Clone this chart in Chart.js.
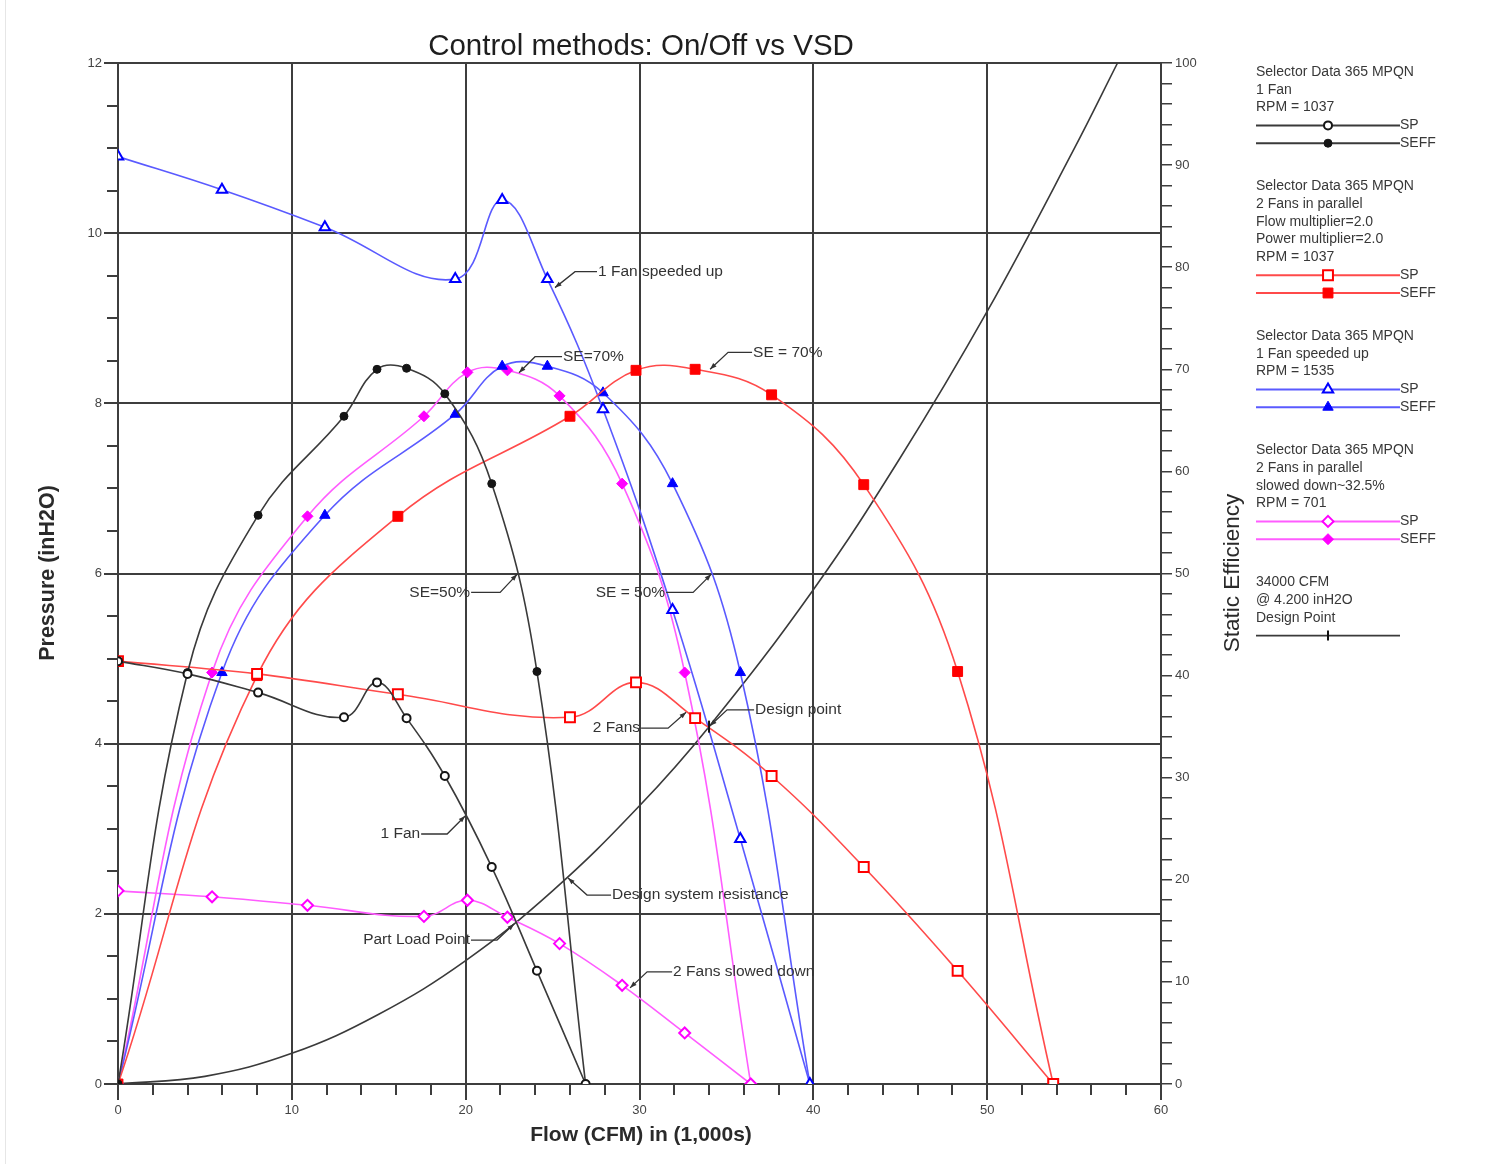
<!DOCTYPE html>
<html><head><meta charset="utf-8">
<script src="https://cdn.jsdelivr.net/npm/chart.js@4.4.1/dist/chart.umd.min.js"></script>
<style>
html,body{margin:0;padding:0;background:#fff;}
#wrap{position:relative;width:1509px;height:1164px;overflow:hidden;}
#edge{position:absolute;left:5px;top:0;width:1px;height:1164px;background:#e6e6e6;}
canvas{position:absolute;left:0;top:0;}
</style></head><body>
<div id="wrap"><div id="edge"></div><canvas id="c" width="1509" height="1164" style="width:1509px;height:1164px"></canvas></div>
<script>
// ---- DATA ----
const chartTitle = 'Control methods: On/Off vs VSD';
const xTitle = 'Flow (CFM) in (1,000s)';
const yTitle = 'Pressure (inH2O)';
const y2Title = 'Static Efficiency';

// 1 Fan, RPM 1037
const flow1 = [0, 4, 8.06, 13, 14.9, 16.6, 18.8, 21.5, 24.1, 26.9];
const sp1   = [4.97, 4.82, 4.60, 4.31, 4.72, 4.30, 3.62, 2.55, 1.33, 0];
const seff1 = [0, 40.3, 55.7, 65.4, 70.0, 70.1, 67.6, 58.8, 40.4, 0];

// 2 Fans in parallel, RPM 1037
const flow2 = [0, 8, 16.1, 26, 29.8, 33.2, 37.6, 42.9, 48.3, 53.8];
const sp2   = [4.97, 4.82, 4.58, 4.31, 4.72, 4.30, 3.62, 2.55, 1.33, 0];
const seff2 = [0, 40.0, 55.6, 65.4, 69.9, 70.0, 67.5, 58.7, 40.4, 0];

// 1 Fan speeded up, RPM 1535
const flow3 = [0, 5.98, 11.9, 19.4, 22.1, 24.7, 27.9, 31.9, 35.8, 39.8];
const sp3   = [10.9, 10.51, 10.07, 9.46, 10.39, 9.46, 7.93, 5.57, 2.88, 0];
const seff3 = [0, 40.3, 55.7, 65.6, 70.3, 70.3, 67.7, 58.8, 40.3, 0];

// 2 Fans in parallel slowed down, RPM 701
const flow4 = [0, 5.41, 10.9, 17.6, 20.1, 22.4, 25.4, 29.0, 32.6, 36.4];
const sp4   = [2.27, 2.20, 2.10, 1.97, 2.16, 1.96, 1.65, 1.16, 0.60, 0];
const seff4 = [0, 40.3, 55.6, 65.4, 69.7, 69.9, 67.4, 58.8, 40.3, 0];

// Design system resistance
const sysFlow = [0, 5, 10, 15, 20, 25, 30, 34, 40, 45, 50, 55, 57.5];
const sysP    = [0, 0.09, 0.36, 0.82, 1.45, 2.27, 3.27, 4.2, 5.81, 7.36, 9.08, 10.99, 12.0];

// Design point
const designFlow = [34];
const designP = [4.2];

// Callout labels (anchor in data units)
const annoText = ['1 Fan speeded up','SE=70%','SE = 70%','SE=50%','SE = 50%','Design point','2 Fans','1 Fan','Design system resistance','Part Load Point','2 Fans slowed down'];
const annoX = [25.14, 23.07, 34.06, 22.96, 34.12, 34.06, 32.68, 19.97, 25.89, 22.78, 29.46];
const annoY = [9.36, 8.36, 8.40, 5.99, 5.99, 4.21, 4.37, 3.15, 2.42, 1.88, 1.13];

// Legend texts
const legendHeads = [
  ['Selector Data 365 MPQN','1 Fan','RPM = 1037'],
  ['Selector Data 365 MPQN','2 Fans in parallel','Flow multiplier=2.0','Power multiplier=2.0','RPM = 1037'],
  ['Selector Data 365 MPQN','1 Fan speeded up','RPM = 1535'],
  ['Selector Data 365 MPQN','2 Fans in parallel','slowed down~32.5%','RPM = 701'],
  ['34000 CFM','@ 4.200 inH2O','Design Point']
];
const legendSeriesLabels = ['SP','SEFF'];

// ---- STYLE ----
const FONT = '"Liberation Sans", Arial, sans-serif';
const GRID = '#3d3d3d';
const annoDX = [20,16,18,-17,-18,17,-18,-18,19,-17,17];
const annoDY = [-16,-16,-17,18,18,-16,16,18,17,16,-16];
const annoLen = [22,27,24,29,27,27,27,26,24,26,25];

function pts(xs, ys){ return xs.map((x,i)=>({x:x, y:ys[i]})); }

const series = [
  {key:'k', line:'#3a3a3a', mark:'#151515', style:'circle', r:4},
  {key:'r', line:'#ff4a4a', mark:'#ff0000', style:'rect', r:7},
  {key:'b', line:'#5a5aff', mark:'#0000ff', style:'triangle', r:6},
  {key:'m', line:'#ff5cff', mark:'#ff00ff', style:'rectRot', r:5.5}
];
const spData = [[flow1,sp1],[flow2,sp2],[flow3,sp3],[flow4,sp4]];
const effData = [[flow1,seff1],[flow2,seff2],[flow3,seff3],[flow4,seff4]];

const datasets = [];
datasets.push({label:'Design point', data: pts(designFlow, designP), yAxisID:'y', showLine:false,
  pointStyle:'line', rotation:90, pointRadius:6, pointBorderWidth:2, pointBorderColor:'#111', borderColor:'#111'});
series.forEach((s,i)=>{
  datasets.push({label:s.key+' SP', data: pts(spData[i][0], spData[i][1]), yAxisID:'y', showLine:true,
    borderColor:s.line, borderWidth:1.6, tension:0.4, pointStyle:s.style, pointRadius:s.r,
    pointBorderColor:s.mark, pointBackgroundColor:'#ffffff', pointBorderWidth:2});
  datasets.push({label:s.key+' SEFF', data: pts(effData[i][0], effData[i][1]), yAxisID:'y2', showLine:true,
    borderColor:s.line, borderWidth:1.6, tension:0.4, pointStyle:s.style, pointRadius:s.r,
    pointBorderColor:s.mark, pointBackgroundColor:s.mark, pointBorderWidth:1});
});
datasets.push({label:'Design system resistance', data: pts(sysFlow, sysP), yAxisID:'y', showLine:true,
  borderColor:'#3a3a3a', borderWidth:1.6, tension:0.4, pointRadius:0});

function drawMarker(ctx, style, r, x, y, fill, stroke, lw){
  ctx.save();
  ctx.lineWidth = lw; ctx.strokeStyle = stroke; ctx.fillStyle = fill;
  ctx.beginPath();
  if (style==='circle'){ ctx.arc(x,y,r,0,Math.PI*2); }
  else if (style==='rect'){ const s=r*Math.SQRT1_2; ctx.rect(x-s,y-s,2*s,2*s); }
  else if (style==='triangle'){ ctx.moveTo(x, y - r); ctx.lineTo(x + r*0.866, y + r*0.5); ctx.lineTo(x - r*0.866, y + r*0.5); ctx.closePath(); }
  else if (style==='rectRot'){ ctx.moveTo(x,y-r); ctx.lineTo(x+r,y); ctx.lineTo(x,y+r); ctx.lineTo(x-r,y); ctx.closePath(); }
  else if (style==='vline'){ ctx.moveTo(x,y-r); ctx.lineTo(x,y+r); ctx.stroke(); ctx.restore(); return; }
  if (fill) ctx.fill();
  ctx.stroke();
  ctx.restore();
}

const decor = {
  id:'decor',
  afterDraw(chart){
    const ctx = chart.ctx;
    const xs = chart.scales.x, ys = chart.scales.y;
    const ca = chart.chartArea;
    ctx.save();
    // longer major tick marks
    ctx.strokeStyle = GRID; ctx.lineWidth = 2;
    for (let v = 0; v <= 60; v += 10){
      const px = Math.round(xs.getPixelForValue(v));
      ctx.beginPath(); ctx.moveTo(px, ca.bottom); ctx.lineTo(px, ca.bottom + 16); ctx.stroke();
    }
    for (let v = 0; v <= 12; v += 2){
      const py = Math.round(ys.getPixelForValue(v));
      ctx.beginPath(); ctx.moveTo(ca.left, py); ctx.lineTo(ca.left - 14, py); ctx.stroke();
    }
    // titles
    ctx.fillStyle = '#1e1e1e';
    ctx.textAlign = 'center'; ctx.textBaseline = 'middle';
    ctx.font = '29.5px ' + FONT;
    ctx.fillText(chartTitle, 641, 47);
    ctx.fillStyle = '#2a2a2a';
    ctx.font = 'bold 21px ' + FONT;
    ctx.fillText(xTitle, 641, 1135);
    ctx.save(); ctx.translate(48, 573); ctx.rotate(-Math.PI/2);
    ctx.font = 'bold 21.5px ' + FONT; ctx.fillText(yTitle, 0, 0); ctx.restore();
    ctx.save(); ctx.translate(1233, 573); ctx.rotate(-Math.PI/2);
    ctx.font = '22.5px ' + FONT; ctx.fillText(y2Title, 0, 0); ctx.restore();

    // callouts
    ctx.font = '15.5px ' + FONT;
    ctx.strokeStyle = '#333'; ctx.fillStyle = '#333'; ctx.lineWidth = 1.3;
    annoText.forEach((t,i)=>{
      const ax = xs.getPixelForValue(annoX[i]), ay = ys.getPixelForValue(annoY[i]);
      const ex = ax + annoDX[i], ey = ay + annoDY[i];
      const dir = annoDX[i] > 0 ? 1 : -1;
      const hx = ex + dir*annoLen[i];
      ctx.beginPath(); ctx.moveTo(ax,ay); ctx.lineTo(ex,ey); ctx.lineTo(hx,ey); ctx.stroke();
      const ang = Math.atan2(ay-ey, ax-ex);
      ctx.beginPath();
      ctx.moveTo(ax,ay);
      ctx.lineTo(ax - 7*Math.cos(ang-0.35), ay - 7*Math.sin(ang-0.35));
      ctx.lineTo(ax - 7*Math.cos(ang+0.35), ay - 7*Math.sin(ang+0.35));
      ctx.closePath(); ctx.fill();
      ctx.textAlign = dir>0 ? 'left' : 'right';
      ctx.textBaseline = 'middle';
      ctx.fillText(t, hx + dir*1, ey);
    });

    // legend
    const lx0 = 1256, lx1 = 1400, mx = 1328, step = 17.8;
    let y = 72;
    ctx.font = '14px ' + FONT;
    ctx.textBaseline = 'middle'; ctx.textAlign = 'left';
    legendHeads.forEach((lines,g)=>{
      ctx.fillStyle = '#383838';
      lines.forEach(l=>{ ctx.fillText(l, lx0, y); y += step; });
      if (g < 4){
        const s = series[g];
        [0,1].forEach(k=>{
          ctx.strokeStyle = s.line; ctx.lineWidth = 2;
          ctx.beginPath(); ctx.moveTo(lx0, y); ctx.lineTo(lx1, y); ctx.stroke();
          drawMarker(ctx, s.style, s.r, mx, y, k===0 ? '#ffffff' : s.mark, s.mark, k===0?2:1);
          ctx.fillStyle = '#383838';
          ctx.fillText(legendSeriesLabels[k], lx1, y);
          if (k===0) y += step;
        });
        y += 43;
      } else {
        ctx.strokeStyle = '#3a3a3a'; ctx.lineWidth = 1.6;
        ctx.beginPath(); ctx.moveTo(lx0, y); ctx.lineTo(lx1, y); ctx.stroke();
        drawMarker(ctx, 'vline', 5, mx, y, null, '#111', 2);
      }
    });
    ctx.restore();
  }
};

const tickFont = {family: FONT, size: 13};
new Chart(document.getElementById('c'), {
  type: 'scatter',
  data: {datasets: datasets},
  options: {
    responsive:false, animation:false, devicePixelRatio:1, events:[],
    layout:{padding:{left:0, top:63, right:268, bottom:40}},
    plugins:{legend:{display:false}, title:{display:false}, tooltip:{enabled:false}},
    scales:{
      x:{type:'linear', min:0, max:60, position:'bottom',
        afterFit(s){ s.height = 40; },
        ticks:{stepSize:2, autoSkip:false, maxRotation:0, font:tickFont, color:'#444', padding:8,
          callback:(v)=> (Math.round(v)%10===0 ? String(v) : '')},
        grid:{color:(c)=> (Math.round(c.tick.value)%10===0 ? GRID : 'rgba(0,0,0,0)'), tickColor:GRID,
          lineWidth:2, tickLength:11, drawTicks:true},
        border:{display:true, color:GRID, width:2}},
      y:{type:'linear', min:0, max:12, position:'left',
        afterFit(s){ s.width = 118; },
        ticks:{stepSize:0.5, autoSkip:false, font:tickFont, color:'#444', padding:5,
          callback:(v)=> (Math.abs(v/2 - Math.round(v/2))<1e-6 ? String(v) : '')},
        grid:{color:(c)=> (Math.abs(c.tick.value/2 - Math.round(c.tick.value/2))<1e-6 ? GRID : 'rgba(0,0,0,0)'),
          tickColor:GRID, lineWidth:2, tickLength:11},
        border:{display:true, color:GRID, width:2}},
      y2:{type:'linear', min:0, max:100, position:'right',
        afterFit(s){ s.width = 80; },
        ticks:{stepSize:2, autoSkip:false, font:tickFont, color:'#444', padding:3,
          callback:(v)=> (Math.round(v)%10===0 ? String(v) : '')},
        grid:{drawOnChartArea:false, color:GRID, tickColor:GRID, lineWidth:1.5, tickLength:11},
        border:{display:true, color:GRID, width:2}}
    }
  },
  plugins:[decor]
});
</script>
</body></html>
